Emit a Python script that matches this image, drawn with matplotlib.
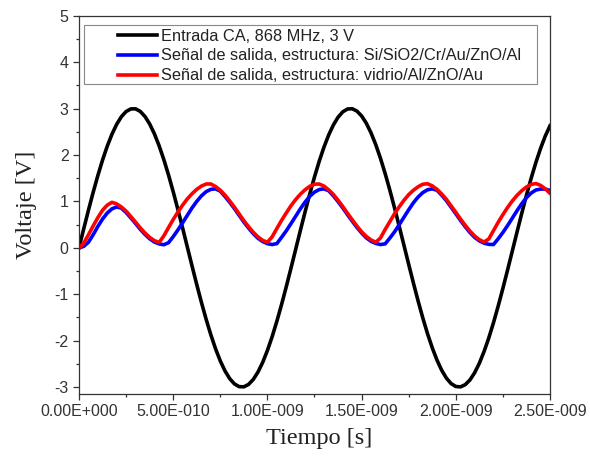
import numpy as np
import matplotlib
matplotlib.use("Agg")
import matplotlib.pyplot as plt
from matplotlib.patches import Rectangle
from matplotlib.ticker import MultipleLocator, FixedLocator

# sample times in ns (step 0.025 ns)
t_ns = np.round(np.arange(0, 101) * 0.025, 3)

# input 868 MHz, 3 V
v_in = [0.000, 0.408, 0.808, 1.193, 1.556, 1.891, 2.190, 2.448, 2.661, 2.825,
        2.936, 2.992, 2.994, 2.939, 2.830, 2.669, 2.458, 2.201, 1.903, 1.571,
        1.209, 0.824, 0.425, 0.017, -0.391, -0.792, -1.178, -1.542, -1.877, -2.178,
        -2.438, -2.653, -2.819, -2.932, -2.991, -2.995, -2.943, -2.836, -2.677, -2.468,
        -2.212, -1.917, -1.585, -1.224, -0.841, -0.441, -0.034, 0.374, 0.775, 1.162,
        1.527, 1.864, 2.166, 2.428, 2.645, 2.813, 2.929, 2.990, 2.996, 2.946,
        2.841, 2.684, 2.477, 2.224, 1.930, 1.600, 1.240, 0.857, 0.458, 0.051,
        -0.357, -0.759, -1.146, -1.513, -1.851, -2.154, -2.418, -2.637, -2.807, -2.925,
        -2.988, -2.996, -2.949, -2.847, -2.692, -2.487, -2.235, -1.943, -1.614, -1.255,
        -0.873, -0.475, -0.068, 0.340, 0.742, 1.131, 1.498, 1.837, 2.142, 2.408,
        2.629]

# output, Si/SiO2/Cr/Au/ZnO/Al
v_si = [0.000, 0.030, 0.120, 0.280, 0.460, 0.620, 0.750, 0.840, 0.880, 0.855,
        0.760, 0.645, 0.525, 0.400, 0.290, 0.195, 0.125, 0.085, 0.065, 0.110,
        0.240, 0.385, 0.540, 0.700, 0.860, 1.000, 1.120, 1.210, 1.260, 1.270,
        1.220, 1.105, 0.980, 0.845, 0.700, 0.555, 0.425, 0.305, 0.205, 0.135,
        0.090, 0.070, 0.090, 0.225, 0.365, 0.520, 0.680, 0.840, 0.985, 1.110,
        1.200, 1.255, 1.270, 1.230, 1.120, 0.995, 0.860, 0.715, 0.575, 0.440,
        0.320, 0.215, 0.140, 0.095, 0.070, 0.085, 0.210, 0.345, 0.500, 0.660,
        0.820, 0.970, 1.095, 1.190, 1.250, 1.270, 1.240, 1.135, 1.015, 0.875,
        0.735, 0.590, 0.455, 0.330, 0.225, 0.150, 0.100, 0.075, 0.070, 0.195,
        0.330, 0.480, 0.640, 0.800, 0.950, 1.080, 1.180, 1.245, 1.265, 1.265,
        1.235]

# output, vidrio/Al/ZnO/Au
v_glass = [0.000, 0.100, 0.280, 0.470, 0.650, 0.810, 0.920, 0.980, 0.945, 0.880,
           0.790, 0.675, 0.555, 0.430, 0.320, 0.225, 0.155, 0.115, 0.255, 0.435,
           0.610, 0.770, 0.920, 1.055, 1.165, 1.260, 1.330, 1.375, 1.375, 1.320,
           1.240, 1.135, 1.010, 0.875, 0.730, 0.585, 0.455, 0.335, 0.235, 0.160,
           0.120, 0.235, 0.415, 0.590, 0.750, 0.905, 1.040, 1.155, 1.250, 1.325,
           1.370, 1.375, 1.330, 1.250, 1.150, 1.025, 0.890, 0.745, 0.605, 0.470,
           0.345, 0.245, 0.170, 0.120, 0.210, 0.395, 0.565, 0.735, 0.885, 1.025,
           1.145, 1.240, 1.315, 1.370, 1.380, 1.335, 1.260, 1.160, 1.045, 0.905,
           0.765, 0.620, 0.485, 0.360, 0.255, 0.175, 0.125, 0.190, 0.370, 0.550,
           0.715, 0.870, 1.010, 1.130, 1.230, 1.310, 1.365, 1.385, 1.345, 1.270,
           1.175]

labels = ["Entrada CA, 868 MHz, 3 V",
          "Señal de salida, estructura: Si/SiO2/Cr/Au/ZnO/Al",
          "Señal de salida, estructura: vidrio/Al/ZnO/Au"]
xtick_vals = [0, 0.5e-9, 1.0e-9, 1.5e-9, 2.0e-9, 2.5e-9]
xtick_labels = ["0.00E+000", "5.00E-010", "1.00E-009", "1.50E-009", "2.00E-009", "2.50E-009"]

t = t_ns * 1e-9

plt.rcParams['font.family'] = ['Liberation Sans', 'DejaVu Sans']
plt.rcParams['axes.unicode_minus'] = False

fig = plt.figure(figsize=(5.9, 4.61), dpi=100)
ax = fig.add_axes([0.1339, 0.1453, 0.7983, 0.8206])

ax.plot(t, v_in, color='black', lw=2.6, label=labels[0])
ax.plot(t, v_si, color='#0000ff', lw=2.6, label=labels[1])
ax.plot(t, v_glass, color='#ff0000', lw=2.6, label=labels[2])

ax.set_xlim(0, 2.5e-9)
ax.set_ylim(-3.15, 5)

ax.xaxis.set_major_locator(FixedLocator(xtick_vals))
ax.set_xticklabels(xtick_labels)
ax.xaxis.set_minor_locator(MultipleLocator(0.25e-9))
ax.yaxis.set_major_locator(MultipleLocator(1))
ax.yaxis.set_minor_locator(MultipleLocator(0.5))
ax.tick_params(which='both', direction='out', top=False, right=False,
               colors='#333333', labelsize=11.5, width=0.9)
ax.tick_params(which='major', length=4.5, pad=3)
ax.tick_params(which='minor', length=2.5)
for s in ax.spines.values():
    s.set_color('#333333')
    s.set_linewidth(0.9)

ax.set_xlabel("Tiempo [s]", family='Liberation Serif', fontsize=17.5, color='#222222')
ax.set_ylabel("Voltaje [V]", family='Liberation Serif', fontsize=17.5, color='#222222')
ax.xaxis.set_label_coords(0.51, -0.09)
ax.yaxis.set_label_coords(-0.09, 0.5)

# legend frame drawn separately (wide box, handles indented)
ax.add_patch(Rectangle((0.0106, 0.819), 0.9618, 0.156, transform=ax.transAxes,
                       fill=False, edgecolor='#888888', lw=0.8, zorder=4))
ax.legend(loc='upper left', bbox_to_anchor=(0.0828, 0.966), frameon=False,
          borderpad=0, borderaxespad=0, fontsize=11.8, handlelength=2.35,
          handletextpad=0.25, labelspacing=0.3, labelcolor='#222222')

fig.savefig("out.png", dpi=100)
